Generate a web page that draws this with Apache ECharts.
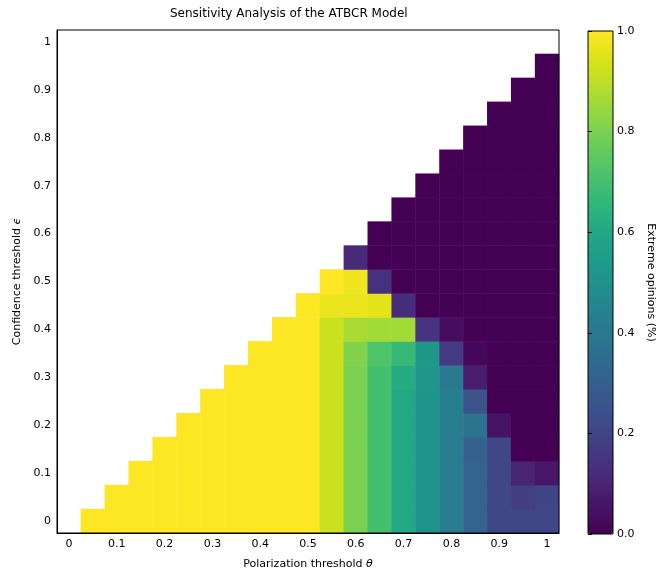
<!DOCTYPE html>
<html>
<head>
<meta charset="utf-8">
<script src="https://cdn.jsdelivr.net/npm/echarts@6/dist/echarts.min.js"></script>
</head>
<body style="margin: 0; background: #fff">
<div id="main" style="width: 659px; height: 572px;"></div>
<script type="text/javascript">
var thetaLabels = ['0', '0.05', '0.1', '0.15', '0.2', '0.25', '0.3', '0.35', '0.4', '0.45', '0.5',
    '0.55', '0.6', '0.65', '0.7', '0.75', '0.8', '0.85', '0.9', '0.95', '1'];
var epsilonLabels = ['0', '0.05', '0.1', '0.15', '0.2', '0.25', '0.3', '0.35', '0.4', '0.45', '0.5',
    '0.55', '0.6', '0.65', '0.7', '0.75', '0.8', '0.85', '0.9', '0.95', '1'];

// share of extreme opinions, one list per theta column, epsilon = 0 upwards (only epsilon < theta was run)
var extreme = [
    [],
    [1],
    [1, 1],
    [1, 1, 1],
    [1, 1, 1, 1],
    [1, 1, 1, 1, 1],
    [1, 1, 1, 1, 1, 1],
    [1, 1, 1, 1, 1, 1, 1],
    [1, 1, 1, 1, 1, 1, 1, 1],
    [1, 1, 1, 1, 1, 1, 1, 1, 1],
    [1, 1, 1, 1, 1, 1, 1, 1, 1, 1],
    [0.92, 0.92, 0.92, 0.92, 0.92, 0.92, 0.92, 0.92, 0.92, 0.97, 1],
    [0.8, 0.8, 0.8, 0.8, 0.8, 0.8, 0.8, 0.81, 0.87, 0.97, 0.98, 0.12],
    [0.7, 0.7, 0.7, 0.7, 0.7, 0.7, 0.7, 0.72, 0.86, 0.96, 0.14, 0, 0],
    [0.6, 0.6, 0.6, 0.6, 0.6, 0.6, 0.61, 0.67, 0.86, 0.13, 0, 0, 0, 0],
    [0.51, 0.51, 0.51, 0.51, 0.51, 0.51, 0.52, 0.53, 0.15, 0, 0, 0, 0, 0, 0],
    [0.42, 0.42, 0.42, 0.42, 0.42, 0.43, 0.41, 0.17, 0.03, 0, 0, 0, 0, 0, 0, 0],
    [0.32, 0.32, 0.32, 0.31, 0.38, 0.25, 0.08, 0.02, 0, 0, 0, 0, 0, 0, 0, 0, 0],
    [0.21, 0.21, 0.21, 0.21, 0.05, 0, 0, 0, 0, 0, 0, 0, 0, 0, 0, 0, 0, 0],
    [0.21, 0.18, 0.1, 0, 0, 0, 0, 0, 0, 0, 0, 0, 0, 0, 0, 0, 0, 0, 0],
    [0.21, 0.2, 0.06, 0, 0, 0, 0, 0, 0, 0, 0, 0, 0, 0, 0, 0, 0, 0, 0, 0]
];

var viridis = ['#440154', '#471365', '#482475', '#463480', '#414487', '#3b528b', '#355f8d',
    '#2f6c8e', '#2a788e', '#25848e', '#21918c', '#1e9c89', '#22a884', '#2fb47c', '#44bf70',
    '#5ec962', '#7ad151', '#9bd93c', '#bddf26', '#dfe318', '#fde725'];

var cells = [];
extreme.forEach(function (col, i) {
    col.forEach(function (v, j) {
        cells.push([i, j, v]);
    });
});

var font = 'DejaVu Sans';
var black = '#000';

var myChart = echarts.init(document.getElementById('main'));
myChart.setOption({
    animation: false,
    backgroundColor: '#fff',
    textStyle: { fontFamily: font, color: black },
    title: {
        text: 'Sensitivity Analysis of the ATBCR Model',
        left: 170,
        top: 8,
        padding: 0,
        textStyle: { fontFamily: font, fontSize: 12, fontWeight: 'normal', color: black }
    },
    grid: [
        { left: 57, top: 30, width: 502, height: 503, show: true, borderColor: black, borderWidth: 1, z: 3, outerBoundsMode: 'none' },
        { left: 588, top: 31, width: 25, height: 503, show: true, borderColor: black, borderWidth: 1, z: 10, outerBoundsMode: 'none' }
    ],
    xAxis: [{
        type: 'category',
        data: thetaLabels,
        gridIndex: 0,
        z: 3,
        axisLine: { lineStyle: { color: black, width: 1 } },
        axisTick: { interval: 0, alignWithLabel: true, length: 4, lineStyle: { color: black } },
        axisLabel: { interval: 1, color: black, fontSize: 11, fontFamily: font, margin: 6 },
        splitLine: { show: false },
        name: 'Polarization threshold {i|θ}',
        nameLocation: 'middle',
        nameGap: 26,
        nameTextStyle: {
            fontFamily: font, fontSize: 11, color: black,
            rich: { i: { fontFamily: font, fontSize: 11, fontStyle: 'italic', color: black } }
        }
    }, {
        type: 'value',
        gridIndex: 1,
        min: 0,
        max: 1,
        show: false
    }],
    yAxis: [{
        type: 'category',
        data: epsilonLabels,
        gridIndex: 0,
        z: 3,
        axisLine: { lineStyle: { color: black, width: 1 } },
        axisTick: { interval: 0, alignWithLabel: true, length: 4, lineStyle: { color: black } },
        axisLabel: { interval: 1, color: black, fontSize: 11, fontFamily: font, margin: 6 },
        splitLine: { show: false },
        name: 'Confidence threshold {i|ϵ}',
        nameLocation: 'middle',
        nameGap: 31,
        nameTextStyle: {
            fontFamily: font, fontSize: 11, color: black,
            rich: { i: { fontFamily: font, fontSize: 11, fontStyle: 'italic', color: black } }
        }
    }, {
        type: 'value',
        gridIndex: 1,
        position: 'right',
        min: 0,
        max: 1,
        interval: 0.2,
        z: 11,
        axisLine: { show: false },
        axisTick: { show: true, length: 4, lineStyle: { color: black } },
        axisLabel: {
            color: black, fontSize: 11, fontFamily: font, margin: 4,
            formatter: function (v) { return v.toFixed(1); }
        },
        splitLine: { show: false },
        name: 'Extreme opinions (%)',
        nameLocation: 'middle',
        nameRotate: -90,
        nameGap: 32,
        nameTextStyle: { fontFamily: font, fontSize: 11, color: black }
    }],
    visualMap: {
        type: 'continuous',
        seriesIndex: 0,
        min: 0,
        max: 1,
        orient: 'vertical',
        left: 588,
        top: 31,
        padding: 0,
        itemWidth: 25,
        itemHeight: 503,
        calculable: false,
        hoverLink: false,
        text: null,
        inRange: { color: viridis }
    },
    series: [{
        type: 'heatmap',
        xAxisIndex: 0,
        yAxisIndex: 0,
        data: cells,
        itemStyle: { borderWidth: 0 },
        emphasis: { disabled: true }
    }, {
        type: 'line',
        xAxisIndex: 1,
        yAxisIndex: 1,
        data: [],
        silent: true
    }]
});
</script>
</body>
</html>
